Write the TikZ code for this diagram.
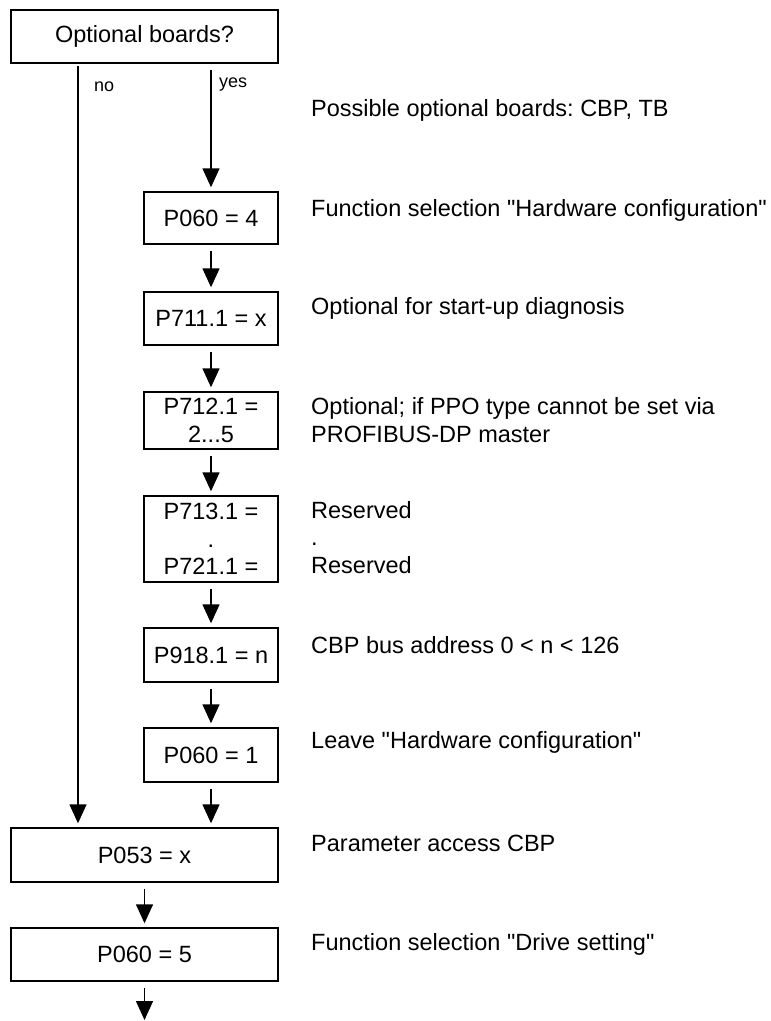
\documentclass[tikz,border=0pt]{standalone}
\usepackage{fontspec}
\setmainfont{Liberation Sans}[Ligatures=TeXOff]
\usetikzlibrary{arrows.meta}
\newcommand\dgmain{\fontsize{23.5}{27.5}\selectfont}
\newcommand\dglab{\fontsize{18}{21}\selectfont}
\frenchspacing
\begin{document}
\begin{tikzpicture}[x=1pt,y=-1pt,
  box/.style={draw, line width=1.4pt, inner sep=0pt, align=center, font=\dgmain},
  smallbox/.style={box, minimum width=134pt},
  widebox/.style={box, minimum width=267pt},
  arr/.style={-{Triangle[length=19pt,width=17pt]}, line width=1.4pt, shorten <=6pt, shorten >=4pt},
  note/.style={anchor=base west, inner sep=0pt, align=left, font=\dgmain},
  lab/.style={anchor=base west, inner sep=0pt, font=\dglab}]
\useasboundingbox (0,0) rectangle (771,1021);
% boxes
\node[widebox, minimum height=53pt] (q) at (144.5,36.5) {Optional boards?};
\node[smallbox, minimum height=52pt] (b1) at (211,218) {P060 = 4};
\node[smallbox, minimum height=53pt] (b2) at (211,318.5) {P711.1 = x};
\node[smallbox, minimum height=57pt] (b3) at (211,420.5) {P712.1 =\\2...5};
\node[smallbox, minimum height=86pt] (b4) at (211,539) {P713.1 =\\.\\P721.1 =};
\node[smallbox, minimum height=54pt] (b5) at (211,655) {P918.1 = n};
\node[smallbox, minimum height=54pt] (b6) at (211,755) {P060 = 1};
\node[widebox, minimum height=54pt] (b7) at (144.5,855) {P053 = x};
\node[widebox, minimum height=53pt] (b8) at (144.5,954.5) {P060 = 5};
\coordinate (nox) at (78,0);
\coordinate (endp) at (144.5,1024);
% connectors
\draw[arr, shorten <=2pt] (nox |- q.south) -- (nox |- b7.north);
\draw[arr] (b1 |- q.south) -- (b1.north);
\draw[arr] (b1.south) -- (b2.north);
\draw[arr] (b2.south) -- (b3.north);
\draw[arr] (b3.south) -- (b4.north);
\draw[arr] (b4.south) -- (b5.north);
\draw[arr] (b5.south) -- (b6.north);
\draw[arr] (b6.south) -- (b6.south |- b7.north);
\draw[arr] (b7.south) -- (b8.north);
\draw[arr] (b8.south) -- (endp);
% labels
\node[lab] (lno) at (94,91) {no};
\node[lab] (lyes) at (219,87) {yes};
% notes
\node[note] (n0) at (311,116) {Possible optional boards: CBP, TB};
\node[note] (n1) at (311,216) {Function selection "Hardware configuration"};
\node[note] (n2) at (311,314) {Optional for start-up diagnosis};
\node[note] (n3) at (311,442) {Optional; if PPO type cannot be set via\\PROFIBUS-DP master};
\node[note] (n4) at (311,573) {Reserved\\.\\Reserved};
\node[note] (n5) at (311,653) {CBP bus address 0 < n < 126};
\node[note] (n6) at (311,748) {Leave "Hardware configuration"};
\node[note] (n7) at (311,851) {Parameter access CBP};
\node[note] (n8) at (311,950) {Function selection "Drive setting"};
\end{tikzpicture}
\end{document}
